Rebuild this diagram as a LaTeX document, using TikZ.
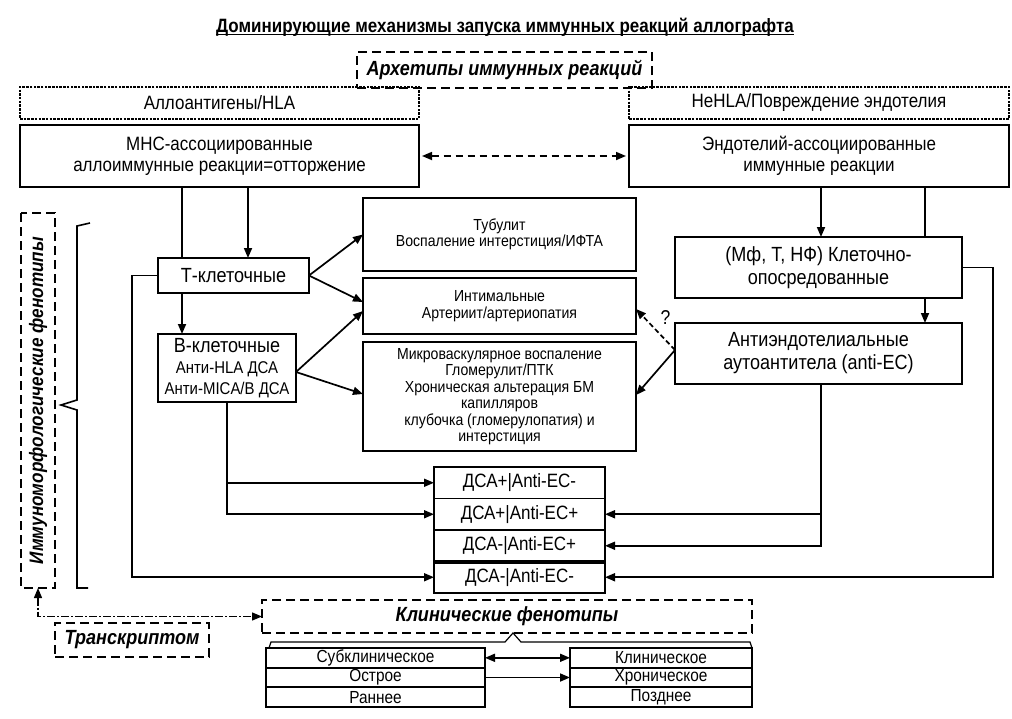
\documentclass[tikz,border=0pt]{standalone}
\usepackage{fontspec}
\setmainfont{Liberation Sans}[FakeStretch=0.88]
\usetikzlibrary{arrows.meta}
\newcommand\fsz[2]{\fontsize{#1}{#2}\selectfont}
\tikzset{
  box/.style={draw,line width=1.9pt,inner sep=0pt,outer sep=0pt,align=center,font=\fsz{19.3}{21}},
  dotbox/.style={box,dash pattern=on 2.5pt off 1.2pt,line width=1.5pt},
  dashbox/.style={box,dash pattern=on 9pt off 5pt,line width=1.6pt,font=\bfseries\itshape\fsz{20.5}{21}},
  smallbox/.style={box,font=\fsz{16}{16.5}},
  dsabox/.style={box,minimum width=171pt,minimum height=31.5pt},
  stackbox/.style={box,minimum height=19.7pt,font=\fsz{17.5}{17}},
  conn/.style={line width=1.7pt},
  arr/.style={conn,-{Triangle[length=10pt,width=8pt]}},
  darr/.style={conn,{Triangle[length=10pt,width=8pt]}-{Triangle[length=10pt,width=8pt]}},
}
\begin{document}
\begin{tikzpicture}[x=1pt,y=-1pt]
\useasboundingbox (0,0) rectangle (1012,718);
% heading
\node[inner sep=0pt,font=\bfseries\fsz{19.3}{20}] (title) at (505,27) {Доминирующие механизмы запуска иммунных реакций аллографта};
\draw[line width=1.4pt] ([yshift=-2.5pt]title.base west) -- ([yshift=-2.5pt]title.base east);
\node[dashbox,minimum width=295pt,minimum height=36pt] (arch) at (504.5,70) {Архетипы иммунных реакций};
\node[dotbox,minimum width=399pt,minimum height=32pt] (allo) at (219.5,103) {Аллоантигены/HLA};
\node[dotbox,minimum width=380pt,minimum height=32pt] (nonhla) at (819,103) {НеHLA/Повреждение эндотелия};
\node[box,minimum width=399pt,minimum height=62pt] (mhc) at (219.5,156) {МНС-ассоциированные\\аллоиммунные реакции=отторжение};
\node[box,minimum width=380pt,minimum height=62pt] (endo) at (819,156) {Эндотелий-ассоциированные\\иммунные реакции};
\draw[darr,dash pattern=on 7pt off 5pt] ([xshift=3pt]mhc.east) -- ([xshift=-3pt]endo.west);
% cell types
\node[box,minimum width=151pt,minimum height=35pt,font=\fsz{20.5}{21}] (tc) at (233.5,275.5) {Т-клеточные};
\node[box,minimum width=138pt,minimum height=68pt] (bc) at (227,368) {{\fsz{20.5}{20}В-клеточные}\\{\fsz{17}{17}Анти-HLA ДСА}\\{\fsz{17}{17}Анти-MICA/B ДСА}};
\node[box,minimum width=287pt,minimum height=61pt,font=\fsz{20.5}{23}] (cell) at (818.5,267.5) {(Мф, Т, НФ) Клеточно-\\опосредованные};
\node[box,minimum width=287pt,minimum height=61pt,font=\fsz{20.5}{23}] (antiec) at (818.5,353.5) {Антиэндотелиальные\\аутоантитела (anti-EC)};
% lesions
\node[smallbox,minimum width=273pt,minimum height=73pt] (tub) at (499.5,234.5) {Тубулит\\Воспаление интерстиция/ИФТА};
\node[smallbox,minimum width=273pt,minimum height=56pt] (intim) at (499.5,306) {Интимальные\\Артериит/артериопатия};
\node[smallbox,minimum width=273pt,minimum height=109pt] (micro) at (499.5,396.5) {Микроваскулярное воспаление\\Гломерулит/ПТК\\Хроническая альтерация БМ\\капилляров\\клубочка (гломерулопатия) и\\интерстиция};
% DSA / anti-EC groups
\node[dsabox,font=\fsz{19.3}{20}] (dsa1) at (519.5,482.75) {ДСА+|Anti-EC-};
\node[dsabox,font=\fsz{19.3}{20},anchor=north] (dsa2) at (dsa1.south) {ДСА+|Anti-EC+};
\node[dsabox,font=\fsz{19.3}{20},anchor=north] (dsa3) at (dsa2.south) {ДСА-|Anti-EC+};
\node[dsabox,font=\fsz{19.3}{20},anchor=north] (dsa4) at (dsa3.south) {ДСА-|Anti-EC-};
\draw[line width=4pt] (dsa4.north west) -- (dsa4.north east);
% side labels
\node[dashbox,minimum width=375pt,minimum height=34pt,rotate=90,font=\bfseries\itshape\fsz{19.5}{20}] (immuno) at (38,400.5) {Иммуноморфологические фенотипы};
\draw[line width=1.6pt] (90,223) -- (77,226) -- (77,400) -- (61,405) -- (77,410) -- (77,588) -- (88,588);
\node[dashbox,minimum width=490pt,minimum height=33pt] (clin) at (507,616.5) {Клинические фенотипы};
\node[dashbox,minimum width=154pt,minimum height=34pt] (trans) at (132,640) {Транскриптом};
\draw[line width=1.2pt] (269,648) -- (271,642) -- (505,642) -- (clin.south -| 513,0) -- (521,642) -- (750,642) -- (752,648);
% clinical stacks
\node[stackbox,minimum width=219pt] (sub) at (375.5,657.8) {Субклиническое};
\node[stackbox,minimum width=219pt,anchor=north] (ost) at (sub.south) {Острое};
\node[stackbox,minimum width=219pt,anchor=north] (ran) at (ost.south) {Раннее};
\node[stackbox,minimum width=182pt] (kli) at (661,657.8) {Клиническое};
\node[stackbox,minimum width=182pt,anchor=north] (hro) at (kli.south) {Хроническое};
\node[stackbox,minimum width=182pt,anchor=north] (poz) at (hro.south) {Позднее};
\draw[darr] (sub.east) -- (kli.west);
\draw[arr] (ost.east) -- (hro.west);
% connectors
\draw[conn] ([xshift=-51.5pt]tc.north |- mhc.south) -- ([xshift=-51.5pt]tc.north);
\draw[arr] ([xshift=14.5pt]tc.north |- mhc.south) -- ([xshift=14.5pt]tc.north);
\draw[arr] ([xshift=-51.5pt]tc.south) -- ([xshift=-51.5pt]tc.south |- bc.north);
\draw[arr] ([xshift=2.5pt]cell.north |- endo.south) -- ([xshift=2.5pt]cell.north);
\draw[conn] ([xshift=106.5pt]cell.north |- endo.south) -- ([xshift=106.5pt]cell.north);
\draw[arr] ([xshift=106.5pt]cell.south) -- ([xshift=106.5pt]cell.south |- antiec.north);
\draw[arr] (tc.east) -- (tub.west);
\draw[arr] (tc.east) -- ([yshift=4pt]intim.west);
\draw[arr] ([yshift=-4pt]bc.east) -- ([yshift=-5pt]intim.west);
\draw[arr] ([yshift=-4pt]bc.east) -- ([yshift=2.5pt]micro.west);
\draw[arr,dash pattern=on 5pt off 3pt] ([yshift=3.5pt]antiec.west) -- node[above right=1pt,font=\fsz{20}{20}] (q) {?} ([yshift=-3pt]intim.east);
\draw[arr] ([yshift=3.5pt]antiec.west) -- ([yshift=1.5pt]micro.east);
\draw[arr] (bc.south) |- (dsa1.west);
\draw[arr] (bc.south) |- (dsa2.west);
\draw[arr] ([xshift=2.5pt]antiec.south) |- (dsa2.east);
\draw[arr] ([xshift=2.5pt]antiec.south) |- (dsa3.east);
\draw[arr] (cell.east) -- ++(31,0) |- (dsa4.east);
\draw[arr] (tc.west) -- ++(-26,0) |- (dsa4.west);
\draw[darr,line width=1.3pt,dash pattern=on 8pt off 2pt on 2pt off 2pt] (immuno.west) |- (clin.west);
\end{tikzpicture}
\end{document}
